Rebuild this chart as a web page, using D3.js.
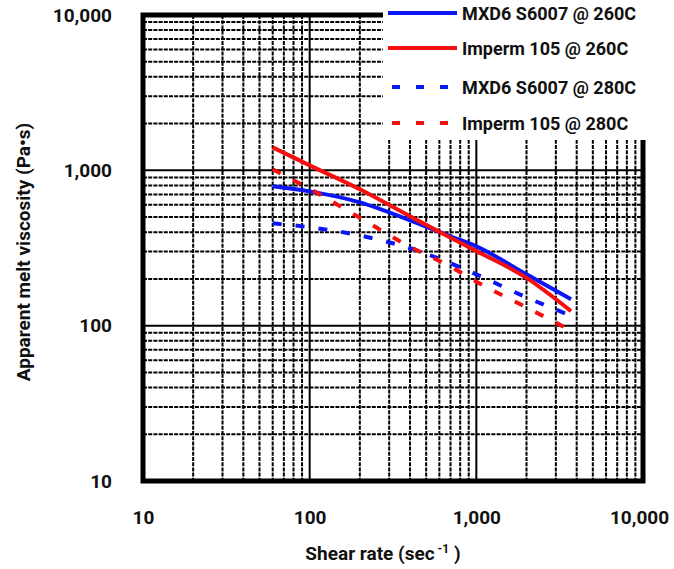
<!DOCTYPE html>
<html>
<head>
<meta charset="utf-8">
<script src="https://cdn.jsdelivr.net/npm/d3@7"></script>
<style>
  body { margin: 0; background: #fff; }
  svg text { font-family: Roboto, "DejaVu Sans Condensed", sans-serif; font-weight: bold; fill: #111; }
</style>
</head>
<body>
<div class="chart"></div>
<script>
// shear rate (1/s) and apparent melt viscosity (Pa.s)
const shearRates = [60, 100, 200, 400, 700, 1000, 2000, 3700];
const mxd6At260 = [789, 732, 622, 477, 376, 324, 214, 148];
const imperm105At260 = [1406, 1077, 755, 506, 368, 302, 203, 124];
const mxd6At280 = [456, 430, 381, 315, 252, 214, 152, 116];
const imperm105At280 = [1015, 760, 495, 322, 240, 192, 131, 93];

const seriesNames = ["MXD6 S6007 @ 260C", "Imperm 105 @ 260C", "MXD6 S6007 @ 280C", "Imperm 105 @ 280C"];
const seriesValues = [mxd6At260, imperm105At260, mxd6At280, imperm105At280];
const seriesColors = ["#0b16f5", "#f50f0f", "#0b16f5", "#f50f0f"];
const seriesDashed = [false, false, true, true];

const xTicks = [10, 100, 1000, 10000];
const yTicks = [10, 100, 1000, 10000];

const margin = { top: 15, right: 31, bottom: 88, left: 143 };
const width = 674 - margin.left - margin.right;
const height = 569 - margin.top - margin.bottom;

const svg = d3.select(".chart")
    .append("svg")
    .attr("width", 674)
    .attr("height", 569);

const g = svg.append("g")
    .attr("transform", "translate(" + margin.left + "," + margin.top + ")");

const x = d3.scaleLog().domain([10, 10000]).range([0, width]);
const y = d3.scaleLog().domain([10, 10000]).range([height, 0]);

// minor grid (2..9 of each decade)
const minor = [];
for (let d = 10; d < 10000; d *= 10) {
    for (let k = 2; k <= 9; k++) minor.push(d * k);
}

g.append("g")
    .selectAll("line")
    .data(minor)
    .enter()
    .append("line")
    .attr("x1", (d) => x(d))
    .attr("x2", (d) => x(d))
    .attr("y1", 0)
    .attr("y2", height)
    .attr("stroke", "#000")
    .attr("stroke-width", 2)
    .attr("stroke-dasharray", "4,1.2");

g.append("g")
    .selectAll("line")
    .data(minor)
    .enter()
    .append("line")
    .attr("x1", 0)
    .attr("x2", width)
    .attr("y1", (d) => y(d))
    .attr("y2", (d) => y(d))
    .attr("stroke", "#000")
    .attr("stroke-width", 2)
    .attr("stroke-dasharray", "4,1.2");

// major grid
g.append("g")
    .selectAll("line")
    .data([100, 1000])
    .enter()
    .append("line")
    .attr("x1", (d) => x(d))
    .attr("x2", (d) => x(d))
    .attr("y1", 0)
    .attr("y2", height)
    .attr("stroke", "#000")
    .attr("stroke-width", 2);

g.append("g")
    .selectAll("line")
    .data([100, 1000])
    .enter()
    .append("line")
    .attr("x1", 0)
    .attr("x2", width)
    .attr("y1", (d) => y(d))
    .attr("y2", (d) => y(d))
    .attr("stroke", "#000")
    .attr("stroke-width", 2);

// series
const line = d3.line()
    .x((d, i) => x(shearRates[i]))
    .y((d) => y(d))
    .curve(d3.curveMonotoneX);

seriesValues.forEach((vals, s) => {
    g.append("path")
        .datum(vals)
        .attr("d", line)
        .attr("fill", "none")
        .attr("stroke", seriesColors[s])
        .attr("stroke-width", 4)
        .attr("stroke-dasharray", seriesDashed[s] ? "9,14" : null);
});

// frame
g.append("rect")
    .attr("x", 0)
    .attr("y", 0)
    .attr("width", width)
    .attr("height", height)
    .attr("fill", "none")
    .attr("stroke", "#000")
    .attr("stroke-width", 5);

// axes (labels only)
const xAxis = d3.axisBottom(x).tickValues(xTicks).tickFormat(d3.format(",")).tickSize(0).tickPadding(30);
const yAxis = d3.axisLeft(y).tickValues(yTicks).tickFormat(d3.format(",")).tickSize(0).tickPadding(31);

const xa = g.append("g")
    .attr("transform", "translate(0," + height + ")")
    .call(xAxis);
xa.select(".domain").remove();
xa.selectAll("text").style("font-size", "19px").attr("fill", "#111");
xa.selectAll(".tick").filter((d) => d === 10000).select("text").attr("dx", -4);

const ya = g.append("g").call(yAxis);
ya.select(".domain").remove();
ya.selectAll("text").style("font-size", "19px").attr("fill", "#111");

// axis titles
const xt = svg.append("text")
    .attr("x", 383)
    .attr("y", 560)
    .attr("text-anchor", "middle")
    .style("font-size", "19px");
xt.append("tspan").text("Shear rate (sec");
xt.append("tspan").attr("dy", -7).style("font-size", "12px").text(" -1");
xt.append("tspan").attr("dy", 7).text(" )");

svg.append("text")
    .attr("transform", "translate(30,252) rotate(-90)")
    .attr("text-anchor", "middle")
    .style("font-size", "19px")
    .text("Apparent melt viscosity (Pa\u2022s)");

// legend
const legend = svg.append("g");
legend.append("rect")
    .attr("x", 383)
    .attr("y", 0)
    .attr("width", 291)
    .attr("height", 140)
    .attr("fill", "#fff");

const legendY = [13, 48, 87, 123];
seriesNames.forEach((name, s) => {
    legend.append("line")
        .attr("x1", seriesDashed[s] ? 392 : 388)
        .attr("x2", 457)
        .attr("y1", legendY[s])
        .attr("y2", legendY[s])
        .attr("stroke", seriesColors[s])
        .attr("stroke-width", 4)
        .attr("stroke-dasharray", seriesDashed[s] ? "8,16" : null);
    legend.append("text")
        .attr("x", 462)
        .attr("y", legendY[s] + 7)
        .style("font-size", "18px")
        .text(name);
});
</script>
</body>
</html>
